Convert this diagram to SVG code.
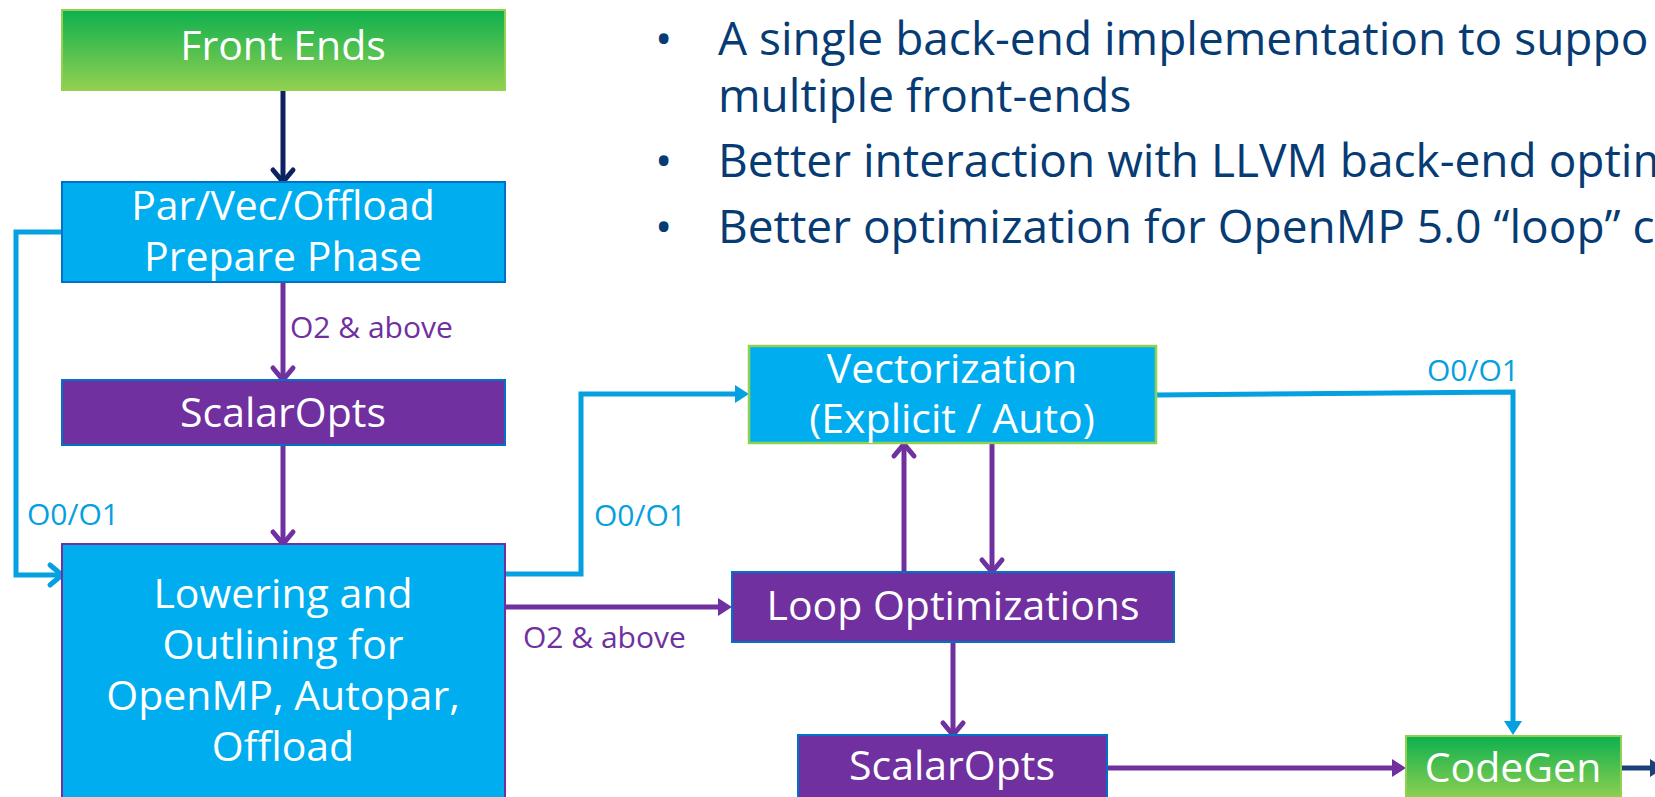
<svg xmlns="http://www.w3.org/2000/svg" width="1655" height="797" viewBox="0 0 1655 797">
  <style>
    .node-text { font-family: "Open Sans", "Noto Sans", "Liberation Sans", sans-serif; font-size: 41px; fill: #ffffff; text-anchor: middle; }
    .bullet { font-family: "Open Sans", "Noto Sans", "Liberation Sans", sans-serif; font-size: 46px; fill: #073b74; }
    .lbl { font-family: "Open Sans", "Noto Sans", "Liberation Sans", sans-serif; font-size: 30px; }
    .lbl-blue { fill: #04a0e0; }
    .lbl-purple { fill: #7030a0; }
    .box-blue { fill: #00aeef; stroke: #0071c5; stroke-width: 2; }
    .box-purple { fill: #7030a0; stroke: #0071c5; stroke-width: 2; }
    .box-green { fill: url(#greenGrad); stroke: #92d050; stroke-width: 2; }
    .wire { fill: none; stroke-width: 5; stroke-linejoin: miter; }
    .w-blue { stroke: #04a0e0; }
    .w-purple { stroke: #7030a0; }
    .w-navy { stroke: #0d2261; }
    .w-navy2 { stroke: #1a4279; }
  </style>
  <defs>
    <linearGradient id="greenGrad" x1="0" y1="0" x2="0" y2="1">
      <stop offset="0" stop-color="#0db04f"/>
      <stop offset="1" stop-color="#92d050"/>
    </linearGradient>
    <!-- open chevron heads -->
    <marker id="chev-navy" markerUnits="userSpaceOnUse" viewBox="-20 -20 30 40" markerWidth="30" markerHeight="40" refX="0" refY="0" orient="auto" overflow="visible">
      <path d="M-12,-10 L0,0 L-12,10" fill="none" stroke="#0d2261" stroke-width="5" stroke-linecap="round" stroke-linejoin="round"/>
    </marker>
    <marker id="chev-purple" markerUnits="userSpaceOnUse" viewBox="-20 -20 30 40" markerWidth="30" markerHeight="40" refX="0" refY="0" orient="auto" overflow="visible">
      <path d="M-12,-10 L0,0 L-12,10" fill="none" stroke="#7030a0" stroke-width="5" stroke-linecap="round" stroke-linejoin="round"/>
    </marker>
    <marker id="chev-blue" markerUnits="userSpaceOnUse" viewBox="-20 -20 30 40" markerWidth="30" markerHeight="40" refX="0" refY="0" orient="auto" overflow="visible">
      <path d="M-12,-10 L0,0 L-12,10" fill="none" stroke="#04a0e0" stroke-width="5" stroke-linecap="round" stroke-linejoin="round"/>
    </marker>
    <!-- filled triangle heads; tip sits 6px past the line end -->
    <marker id="tri-blue" markerUnits="userSpaceOnUse" viewBox="-20 -20 30 40" markerWidth="30" markerHeight="40" refX="0" refY="0" orient="auto" overflow="visible">
      <path d="M-8,-9 L6,0 L-8,9 Z" fill="#04a0e0"/>
    </marker>
    <marker id="tri-purple" markerUnits="userSpaceOnUse" viewBox="-20 -20 30 40" markerWidth="30" markerHeight="40" refX="0" refY="0" orient="auto" overflow="visible">
      <path d="M-8,-9 L6,0 L-8,9 Z" fill="#7030a0"/>
    </marker>
    <marker id="tri-navy" markerUnits="userSpaceOnUse" viewBox="-20 -20 30 40" markerWidth="30" markerHeight="40" refX="0" refY="0" orient="auto" overflow="visible">
      <path d="M-8,-9 L6,0 L-8,9 Z" fill="#1a4279"/>
    </marker>
  </defs>

  <rect width="1655" height="797" fill="#ffffff"/>

  <!-- bullet list -->
  <g id="notes">
    <text class="bullet" x="655" y="55">•</text>
    <text class="bullet" x="718" y="55">A single back-end implementation to suppo</text>
    <text class="bullet" x="718" y="112">multiple front-ends</text>
    <text class="bullet" x="655" y="177">•</text>
    <text class="bullet" x="718" y="177">Better interaction with LLVM back-end optim</text>
    <text class="bullet" x="655" y="243">•</text>
    <text class="bullet" x="718" y="243">Better optimization for OpenMP 5.0 “loop” c</text>
  </g>

  <!-- connectors -->
  <g id="connectors">
    <line class="wire w-navy" x1="283" y1="90" x2="283" y2="182" marker-end="url(#chev-navy)"/>
    <line class="wire w-purple" x1="283" y1="282" x2="283" y2="380" marker-end="url(#chev-purple)"/>
    <line class="wire w-purple" x1="283" y1="445" x2="283" y2="544" marker-end="url(#chev-purple)"/>
    <polyline class="wire w-blue" points="62,232 16,232 16,575 62,575" marker-end="url(#chev-blue)"/>
    <polyline class="wire w-blue" points="505,574 581,574 581,394 743,394" marker-end="url(#tri-blue)"/>
    <line class="wire w-purple" x1="505" y1="607" x2="726" y2="607" marker-end="url(#tri-purple)"/>
    <line class="wire w-purple" x1="904" y1="572" x2="904" y2="444" marker-end="url(#chev-purple)"/>
    <line class="wire w-purple" x1="992" y1="444" x2="992" y2="572" marker-end="url(#chev-purple)"/>
    <line class="wire w-purple" x1="953" y1="642" x2="953" y2="735" marker-end="url(#chev-purple)"/>
    <line class="wire w-purple" x1="1107" y1="768" x2="1400" y2="768" marker-end="url(#tri-purple)"/>
    <polyline class="wire w-blue" points="1156,395 1513,392 1513,729" marker-end="url(#tri-blue)"/>
    <line class="wire w-navy2" x1="1621" y1="768" x2="1658" y2="768" marker-end="url(#tri-navy)"/>

    <text class="lbl lbl-purple" x="290" y="338">O2 &amp; above</text>
    <text class="lbl lbl-blue" x="27" y="525">O0/O1</text>
    <text class="lbl lbl-blue" x="594" y="526">O0/O1</text>
    <text class="lbl lbl-purple" x="523" y="648">O2 &amp; above</text>
    <text class="lbl lbl-blue" x="1427" y="381">O0/O1</text>
  </g>

  <!-- nodes -->
  <g id="front-ends">
    <rect class="box-green" x="62" y="10" width="443" height="80"/>
    <text class="node-text" x="283" y="60">Front Ends</text>
  </g>
  <g id="prepare-phase">
    <rect class="box-blue" x="62" y="182" width="443" height="100"/>
    <text class="node-text" x="283" y="220">Par/Vec/Offload</text>
    <text class="node-text" x="283" y="271">Prepare Phase</text>
  </g>
  <g id="scalar-opts-1">
    <rect class="box-purple" x="62" y="380" width="443" height="65"/>
    <text class="node-text" x="283" y="427">ScalarOpts</text>
  </g>
  <g id="lowering">
    <rect x="62" y="544" width="443" height="280" fill="#00aeef" stroke="#7030a0" stroke-width="2"/>
    <text class="node-text" x="283" y="608">Lowering and</text>
    <text class="node-text" x="283" y="659">Outlining for</text>
    <text class="node-text" x="283" y="710">OpenMP, Autopar,</text>
    <text class="node-text" x="283" y="761">Offload</text>
  </g>
  <g id="vectorization">
    <rect x="749" y="346" width="407" height="97" fill="#00aeef" stroke="#92d050" stroke-width="2.5"/>
    <text class="node-text" x="952" y="383">Vectorization</text>
    <text class="node-text" x="952" y="433">(Explicit / Auto)</text>
  </g>
  <g id="loop-opts">
    <rect class="box-purple" x="732" y="572" width="442" height="70"/>
    <text class="node-text" x="953" y="620">Loop Optimizations</text>
  </g>
  <g id="scalar-opts-2">
    <rect class="box-purple" x="798" y="735" width="309" height="90"/>
    <text class="node-text" x="952" y="780">ScalarOpts</text>
  </g>
  <g id="codegen">
    <rect class="box-green" x="1406" y="736" width="215" height="64"/>
    <text class="node-text" x="1513" y="782">CodeGen</text>
  </g>
</svg>
